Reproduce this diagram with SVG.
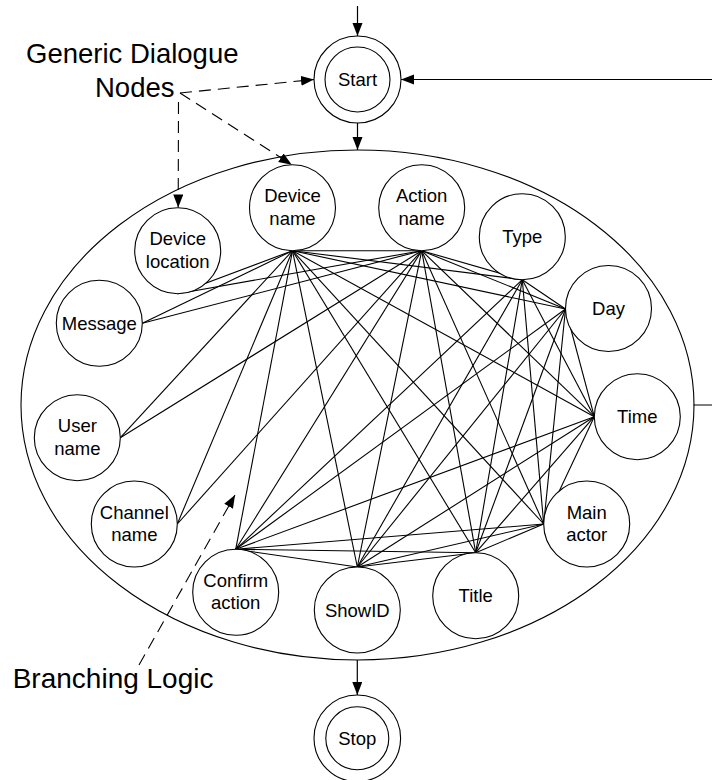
<svg xmlns="http://www.w3.org/2000/svg" width="712" height="780" viewBox="0 0 712 780">
  <defs>
    <marker id="arrow" markerUnits="userSpaceOnUse" markerWidth="14" markerHeight="11" refX="13" refY="5" orient="auto">
      <path d="M0,0 L13,5 L0,10 z" fill="#000" stroke="none"/>
    </marker>
    <style>
      .bg { fill: #fff; }
      .node { fill: #fff; stroke: #000; stroke-width: 1.1; }
      .frame { fill: none; stroke: #000; stroke-width: 1.1; }
      .edge { stroke: #000; stroke-width: 1.1; fill: none; }
      .flow { stroke: #000; stroke-width: 1.2; fill: none; marker-end: url(#arrow); }
      .callout { stroke: #000; stroke-width: 1.1; fill: none; stroke-dasharray: 12 7; marker-end: url(#arrow); }
      .lbl { font-family: "Liberation Sans", Arial, sans-serif; font-size: 18.5px; fill: #000; text-anchor: middle; }
      .note { font-family: "Liberation Sans", Arial, sans-serif; font-size: 27.5px; fill: #000; }
    </style>
  </defs>

  <rect class="bg" x="0" y="0" width="712" height="780"/>

  <!-- dialogue-state container -->
  <ellipse id="branching-area" class="frame" cx="357.5" cy="405" rx="336.5" ry="255"/>

  <!-- mesh of transitions between dialogue nodes -->
  <g id="connectors">
    <g id="mesh">
      <line class="edge" x1="292.5" y1="250.7" x2="421.7" y2="250.7"/>
      <line class="edge" x1="292.5" y1="250.7" x2="522.3" y2="279.7"/>
      <line class="edge" x1="292.5" y1="250.7" x2="565.5" y2="309"/>
      <line class="edge" x1="292.5" y1="250.7" x2="594.3" y2="416.7"/>
      <line class="edge" x1="292.5" y1="250.7" x2="543.7" y2="524"/>
      <line class="edge" x1="292.5" y1="250.7" x2="475.7" y2="552.7"/>
      <line class="edge" x1="292.5" y1="250.7" x2="357.3" y2="567"/>
      <line class="edge" x1="292.5" y1="250.7" x2="235.7" y2="549.3"/>

      <line class="edge" x1="421.7" y1="250.7" x2="522.3" y2="279.7"/>
      <line class="edge" x1="421.7" y1="250.7" x2="565.5" y2="309"/>
      <line class="edge" x1="421.7" y1="250.7" x2="594.3" y2="416.7"/>
      <line class="edge" x1="421.7" y1="250.7" x2="543.7" y2="524"/>
      <line class="edge" x1="421.7" y1="250.7" x2="475.7" y2="552.7"/>
      <line class="edge" x1="421.7" y1="250.7" x2="357.3" y2="567"/>
      <line class="edge" x1="421.7" y1="250.7" x2="235.7" y2="549.3"/>

      <line class="edge" x1="522.3" y1="279.7" x2="565.5" y2="309"/>
      <line class="edge" x1="522.3" y1="279.7" x2="594.3" y2="416.7"/>
      <line class="edge" x1="522.3" y1="279.7" x2="543.7" y2="524"/>
      <line class="edge" x1="522.3" y1="279.7" x2="475.7" y2="552.7"/>
      <line class="edge" x1="522.3" y1="279.7" x2="357.3" y2="567"/>
      <line class="edge" x1="522.3" y1="279.7" x2="235.7" y2="549.3"/>

      <line class="edge" x1="565.5" y1="309" x2="594.3" y2="416.7"/>
      <line class="edge" x1="565.5" y1="309" x2="543.7" y2="524"/>
      <line class="edge" x1="565.5" y1="309" x2="475.7" y2="552.7"/>
      <line class="edge" x1="565.5" y1="309" x2="357.3" y2="567"/>
      <line class="edge" x1="565.5" y1="309" x2="235.7" y2="549.3"/>

      <line class="edge" x1="594.3" y1="416.7" x2="543.7" y2="524"/>
      <line class="edge" x1="594.3" y1="416.7" x2="475.7" y2="552.7"/>
      <line class="edge" x1="594.3" y1="416.7" x2="357.3" y2="567"/>
      <line class="edge" x1="594.3" y1="416.7" x2="235.7" y2="549.3"/>

      <line class="edge" x1="543.7" y1="524" x2="475.7" y2="552.7"/>
      <line class="edge" x1="543.7" y1="524" x2="357.3" y2="567"/>
      <line class="edge" x1="543.7" y1="524" x2="235.7" y2="549.3"/>

      <line class="edge" x1="475.7" y1="552.7" x2="357.3" y2="567"/>
      <line class="edge" x1="475.7" y1="552.7" x2="235.7" y2="549.3"/>

      <line class="edge" x1="357.3" y1="567" x2="235.7" y2="549.3"/>

      <!-- side slots feed the two hub nodes -->
      <line class="edge" x1="177.7" y1="293.7" x2="292.5" y2="250.7"/>
      <line class="edge" x1="177.7" y1="293.7" x2="421.7" y2="250.7"/>
      <line class="edge" x1="142.3" y1="323.3" x2="292.5" y2="250.7"/>
      <line class="edge" x1="142.3" y1="323.3" x2="421.7" y2="250.7"/>
      <line class="edge" x1="120.3" y1="437.7" x2="292.5" y2="250.7"/>
      <line class="edge" x1="120.3" y1="437.7" x2="421.7" y2="250.7"/>
      <line class="edge" x1="177.3" y1="524" x2="292.5" y2="250.7"/>
      <line class="edge" x1="177.3" y1="524" x2="421.7" y2="250.7"/>
    </g>

    <!-- main flow -->
    <line class="flow" x1="357.5" y1="6" x2="357.5" y2="36"/>
    <line class="flow" x1="357.5" y1="123" x2="357.5" y2="150"/>
    <line class="flow" x1="357.3" y1="660" x2="357.3" y2="695"/>
    <path class="flow" d="M693.5,405 H716 V79.5 H401"/>

    <!-- annotation pointers -->
    <line class="callout" x1="180" y1="93" x2="314" y2="79.5"/>
    <line class="callout" x1="180" y1="93" x2="291.8" y2="164.7"/>
    <line class="callout" x1="178.5" y1="102" x2="178.2" y2="207.5"/>
    <line class="callout" x1="139" y1="665" x2="235" y2="495"/>
  </g>

  <g id="start">
    <circle class="node" cx="357.5" cy="79.5" r="43.5"/>
    <circle class="node" cx="357.5" cy="79.5" r="32.5"/>
    <text class="lbl" x="357.5" y="85.8">Start</text>
  </g>

  <g id="device-location">
    <circle class="node" cx="177.7" cy="250.7" r="43"/>
    <text class="lbl" x="177.7" y="245.4">Device</text>
    <text class="lbl" x="177.7" y="267.7">location</text>
  </g>

  <g id="device-name">
    <circle class="node" cx="292.5" cy="207.7" r="43"/>
    <text class="lbl" x="292.5" y="202.4">Device</text>
    <text class="lbl" x="292.5" y="224.7">name</text>
  </g>

  <g id="action-name">
    <circle class="node" cx="421.7" cy="207.7" r="43"/>
    <text class="lbl" x="421.7" y="202.4">Action</text>
    <text class="lbl" x="421.7" y="224.7">name</text>
  </g>

  <g id="type">
    <circle class="node" cx="522.3" cy="236.7" r="43"/>
    <text class="lbl" x="522.3" y="243.2">Type</text>
  </g>

  <g id="day">
    <circle class="node" cx="608.5" cy="308.5" r="43"/>
    <text class="lbl" x="608.5" y="315">Day</text>
  </g>

  <g id="time">
    <circle class="node" cx="637.3" cy="416.7" r="43"/>
    <text class="lbl" x="637.3" y="423.2">Time</text>
  </g>

  <g id="main-actor">
    <circle class="node" cx="586.7" cy="524" r="43"/>
    <text class="lbl" x="586.7" y="518.7">Main</text>
    <text class="lbl" x="586.7" y="541">actor</text>
  </g>

  <g id="title">
    <circle class="node" cx="475.7" cy="595.7" r="43"/>
    <text class="lbl" x="475.7" y="602.2">Title</text>
  </g>

  <g id="show-id">
    <circle class="node" cx="357.3" cy="610" r="43"/>
    <text class="lbl" x="357.3" y="616.5">ShowID</text>
  </g>

  <g id="confirm-action">
    <circle class="node" cx="235.7" cy="592.3" r="43"/>
    <text class="lbl" x="235.7" y="587">Confirm</text>
    <text class="lbl" x="235.7" y="609.3">action</text>
  </g>

  <g id="channel-name">
    <circle class="node" cx="134.3" cy="524" r="43"/>
    <text class="lbl" x="134.3" y="518.5">Channel</text>
    <text class="lbl" x="134.3" y="540.8">name</text>
  </g>

  <g id="user-name">
    <circle class="node" cx="77.3" cy="437.7" r="43"/>
    <text class="lbl" x="77.3" y="432.2">User</text>
    <text class="lbl" x="77.3" y="454.5">name</text>
  </g>

  <g id="message">
    <circle class="node" cx="99.3" cy="323.3" r="43"/>
    <text class="lbl" x="99.3" y="329.6">Message</text>
  </g>

  <g id="stop">
    <circle class="node" cx="357.3" cy="738.3" r="43.3"/>
    <circle class="node" cx="357.3" cy="738.3" r="31.5"/>
    <text class="lbl" x="357.3" y="744.8">Stop</text>
  </g>

  <g id="notes">
    <text class="note" x="26" y="63">Generic Dialogue</text>
    <text class="note" x="95" y="97">Nodes</text>
    <text class="note" x="12.7" y="688" style="font-size:28px">Branching Logic</text>
  </g>
</svg>
